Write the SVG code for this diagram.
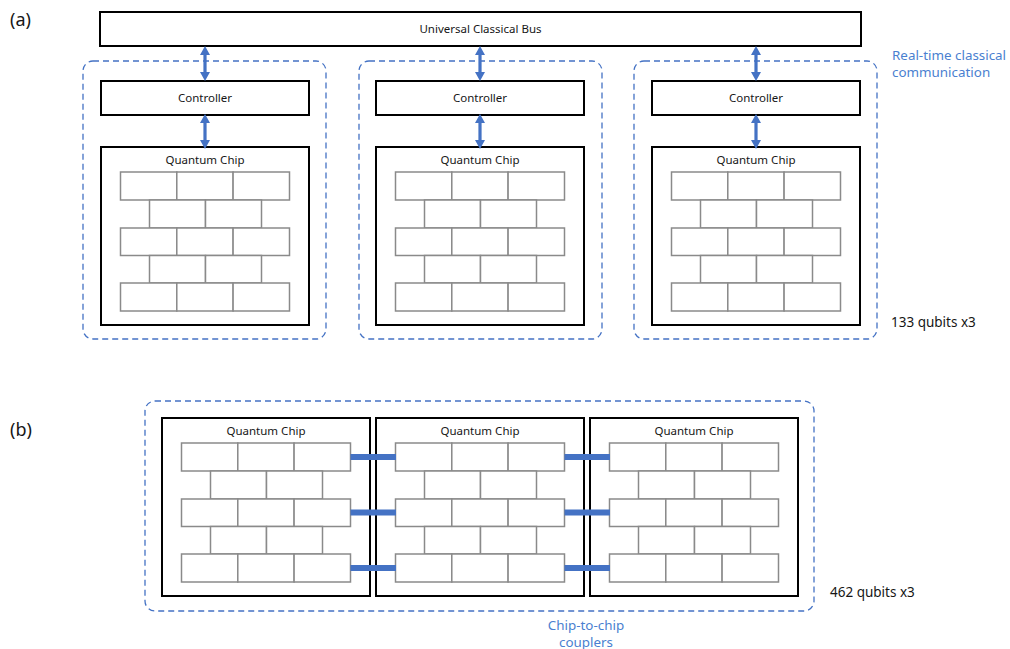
<svg xmlns="http://www.w3.org/2000/svg" xmlns:xlink="http://www.w3.org/1999/xlink" width="1010" height="649" viewBox="0 0 1010 649">
  <style>
    text { font-family: "Noto Sans", "Open Sans", "Liberation Sans", sans-serif; fill: #161616; }
    .box { fill: #ffffff; stroke: #000000; stroke-width: 2; }
    .group { fill: none; stroke: #4472c4; stroke-width: 1.3; stroke-dasharray: 6 4; }
    .brick { fill: #ffffff; stroke: #8a8a8a; stroke-width: 1.5; }
    .label { font-size: 11.5px; text-anchor: middle; }
    .note { font-size: 13.4px; fill: #4a7fd0; }
    .count { font-size: 13.5px; }
    .tag { font-size: 18px; }
    .arrow { fill: #4472c4; }
    .coupler { fill: #4472c4; }
  </style>
  <defs>
    <!-- staggered qubit lattice, 169 x 139 -->
    <g id="lattice">
      <rect class="brick" x="0" y="0" width="56.3" height="28"/>
      <rect class="brick" x="56.3" y="0" width="56.3" height="28"/>
      <rect class="brick" x="112.6" y="0" width="56.4" height="28"/>
      <rect class="brick" x="29" y="28" width="56" height="28"/>
      <rect class="brick" x="85" y="28" width="56" height="28"/>
      <rect class="brick" x="0" y="56" width="56.3" height="27.5"/>
      <rect class="brick" x="56.3" y="56" width="56.3" height="27.5"/>
      <rect class="brick" x="112.6" y="56" width="56.4" height="27.5"/>
      <rect class="brick" x="29" y="83.5" width="56" height="27.5"/>
      <rect class="brick" x="85" y="83.5" width="56" height="27.5"/>
      <rect class="brick" x="0" y="111" width="56.3" height="28"/>
      <rect class="brick" x="56.3" y="111" width="56.3" height="28"/>
      <rect class="brick" x="112.6" y="111" width="56.4" height="28"/>
    </g>
    <!-- quantum chip: frame, title and lattice -->
    <g id="chip">
      <rect class="box" x="0" y="0" width="208" height="178"/>
      <text class="label" x="104" y="16.5" font-size="12.5">Quantum Chip</text>
      <use xlink:href="#lattice" x="19.5" y="25"/>
    </g>
    <!-- vertical double-headed link, 35 tall -->
    <path id="link" class="arrow" d="M0,0 L5,9 L1.6,9 L1.6,26 L5,26 L0,35 L-5,26 L-1.6,26 L-1.6,9 L-5,9 Z"/>
  </defs>

  <!-- (a) distributed architecture -->
  <text class="tag" x="10" y="26">(a)</text>

  <g id="bus">
    <rect class="box" x="100" y="12" width="761" height="34"/>
    <text class="label" x="480.5" y="33" font-size="12.4">Universal Classical Bus</text>
  </g>

  <g id="module-1">
    <rect class="group" x="83" y="61" width="243" height="278" rx="10"/>
    <g id="controller-1">
      <rect class="box" x="101" y="81" width="208" height="34"/>
      <text class="label" x="205" y="102">Controller</text>
    </g>
    <use id="chip-1" xlink:href="#chip" x="101" y="147"/>
  </g>

  <g id="module-2">
    <rect class="group" x="359" y="61" width="243" height="278" rx="10"/>
    <g id="controller-2">
      <rect class="box" x="376" y="81" width="208" height="34"/>
      <text class="label" x="480" y="102">Controller</text>
    </g>
    <use id="chip-2" xlink:href="#chip" x="376" y="147"/>
  </g>

  <g id="module-3">
    <rect class="group" x="634" y="61" width="243" height="278" rx="10"/>
    <g id="controller-3">
      <rect class="box" x="652" y="81" width="208" height="34"/>
      <text class="label" x="756" y="102">Controller</text>
    </g>
    <use id="chip-3" xlink:href="#chip" x="652" y="147"/>
  </g>

  <g id="links">
    <use xlink:href="#link" x="205" y="46"/>
    <use xlink:href="#link" x="205" y="114"/>
    <use xlink:href="#link" x="480" y="46"/>
    <use xlink:href="#link" x="480" y="114"/>
    <use xlink:href="#link" x="756" y="46"/>
    <use xlink:href="#link" x="756" y="114"/>
  </g>

  <g id="notes-a">
    <text class="note" x="892" y="60">Real-time classical</text>
    <text class="note" x="892" y="77">communication</text>
    <text class="count" x="891" y="327">133 qubits x3</text>
  </g>

  <!-- (b) coupled chips -->
  <text class="tag" x="10" y="436">(b)</text>

  <g id="coupled-module">
    <rect class="group" x="145" y="401" width="669" height="210" rx="10"/>
    <use id="chip-b1" xlink:href="#chip" x="162" y="418"/>
    <use id="chip-b2" xlink:href="#chip" x="376" y="418"/>
    <use id="chip-b3" xlink:href="#chip" x="590" y="418"/>
  </g>

  <g id="couplers">
    <rect class="coupler" x="350.5" y="454" width="45.5" height="6"/>
    <rect class="coupler" x="350.5" y="509.5" width="45.5" height="6"/>
    <rect class="coupler" x="350.5" y="565" width="45.5" height="6"/>
    <rect class="coupler" x="564.5" y="454" width="45.5" height="6"/>
    <rect class="coupler" x="564.5" y="509.5" width="45.5" height="6"/>
    <rect class="coupler" x="564.5" y="565" width="45.5" height="6"/>
  </g>

  <g id="notes-b">
    <text class="note" x="586" y="629.5" text-anchor="middle" font-size="13">Chip-to-chip</text>
    <text class="note" x="586" y="646.5" text-anchor="middle" font-size="13">couplers</text>
    <text class="count" x="830" y="597">462 qubits x3</text>
  </g>
</svg>
